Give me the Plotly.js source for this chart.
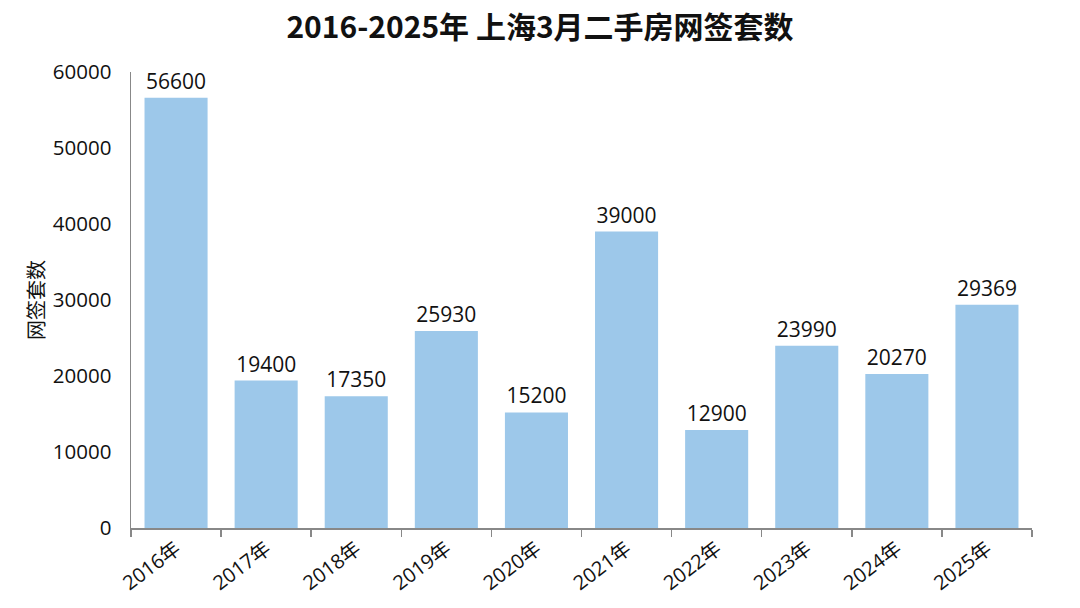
<!DOCTYPE html>
<html><head><meta charset="utf-8">
<script src="https://cdn.plot.ly/plotly-3.0.1.min.js"></script>
<style>body{margin:0;background:#fff}#c{width:1080px;height:608px}</style>
</head><body><div id="c"></div>
<script>
const years = ["2016年","2017年","2018年","2019年","2020年","2021年","2022年","2023年","2024年","2025年"];
const counts = [56600,19400,17350,25930,15200,39000,12900,23990,20270,29369];
const yTicks = [0,10000,20000,30000,40000,50000,60000];

const font = "'Open Sans','Noto Sans CJK SC',sans-serif";
Plotly.newPlot('c', [{
  type:'bar', x: years, y: counts,
  marker:{color:'#9DC8EA'}, width:0.7,
  text: counts.map(String), textposition:'outside', cliponaxis:false,
  textfont:{size:21, color:'#111', family:font},
  hoverinfo:'skip'
}], {
  width:1080, height:608,
  margin:{l:131, r:48, t:72, b:80},
  paper_bgcolor:'#fff', plot_bgcolor:'#fff',
  title:{text:'<b>2016-2025年 上海3月二手房网签套数</b>', x:0.5, xanchor:'center', y:0.955, yanchor:'middle',
    font:{size:30, color:'#111', family:"'Noto Sans CJK SC',sans-serif"}},
  xaxis:{type:'category', showline:true, linecolor:'#888', linewidth:1.5,
    ticks:'outside', tickson:'boundaries', ticklen:7, tickcolor:'#888', tickwidth:1.5,
    tickangle:-37, tickfont:{size:20, color:'#111', family:font}, showgrid:false},
  yaxis:{range:[0,60000], tickvals:yTicks, ticktext:yTicks.map(String), showline:true, linecolor:'#888', linewidth:1.5,
    ticks:'', showgrid:false, zeroline:false, ticklabelstandoff:14,
    tickfont:{size:20.5, color:'#111', family:font},
    title:{text:'网签套数', standoff:3, font:{size:20, color:'#111', family:"'Noto Sans CJK SC',sans-serif"}}},
  bargap:0.3, showlegend:false
}, {displayModeBar:false, staticPlot:true});
</script></body></html>
